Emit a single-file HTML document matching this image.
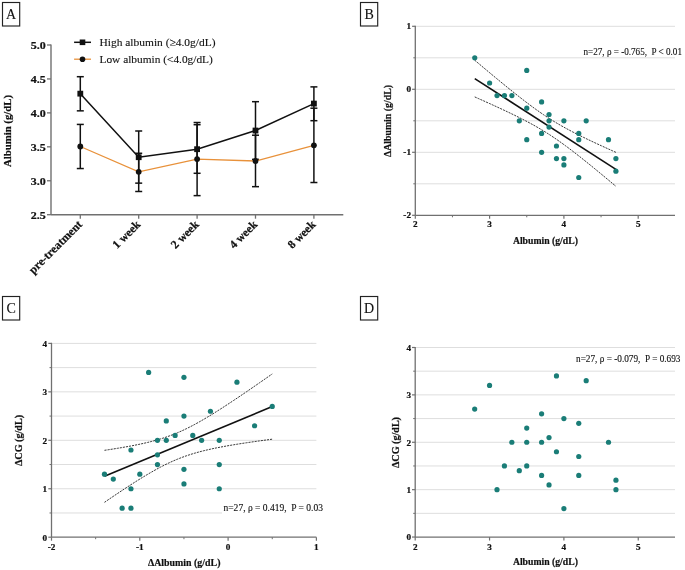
<!DOCTYPE html>
<html><head><meta charset="utf-8"><style>
html,body{margin:0;padding:0;background:#fff;}
svg{display:block;will-change:transform;}
text{font-family:"Liberation Serif", serif;fill:#111;white-space:pre;}
text.r{stroke:#111;stroke-width:0.12px;}
text.b{stroke:#111;stroke-width:0.22px;}
</style></head><body>
<svg width="685" height="570" viewBox="0 0 685 570">
<rect width="685" height="570" fill="#fff"/>
<rect x="2.5" y="2.5" width="17.2" height="23.5" fill="none" stroke="#222" stroke-width="1.15"/>
<text x="11.1" y="18.7" font-size="14" font-weight="normal" text-anchor="middle" class="r">A</text>
<line x1="51.00" y1="44.40" x2="51.00" y2="214.70" stroke="#707070" stroke-width="1.4"/>
<line x1="51.00" y1="214.70" x2="343.30" y2="214.70" stroke="#707070" stroke-width="1.4"/>
<line x1="47.00" y1="45.00" x2="51.00" y2="45.00" stroke="#707070" stroke-width="1.3"/>
<text x="45.8" y="49.2" font-size="11" font-weight="bold" text-anchor="end" textLength="15" lengthAdjust="spacingAndGlyphs" class="b">5.0</text>
<line x1="47.00" y1="78.94" x2="51.00" y2="78.94" stroke="#707070" stroke-width="1.3"/>
<text x="45.8" y="83.14" font-size="11" font-weight="bold" text-anchor="end" textLength="15" lengthAdjust="spacingAndGlyphs" class="b">4.5</text>
<line x1="47.00" y1="112.88" x2="51.00" y2="112.88" stroke="#707070" stroke-width="1.3"/>
<text x="45.8" y="117.08" font-size="11" font-weight="bold" text-anchor="end" textLength="15" lengthAdjust="spacingAndGlyphs" class="b">4.0</text>
<line x1="47.00" y1="146.82" x2="51.00" y2="146.82" stroke="#707070" stroke-width="1.3"/>
<text x="45.8" y="151.01999999999998" font-size="11" font-weight="bold" text-anchor="end" textLength="15" lengthAdjust="spacingAndGlyphs" class="b">3.5</text>
<line x1="47.00" y1="180.76" x2="51.00" y2="180.76" stroke="#707070" stroke-width="1.3"/>
<text x="45.8" y="184.95999999999998" font-size="11" font-weight="bold" text-anchor="end" textLength="15" lengthAdjust="spacingAndGlyphs" class="b">3.0</text>
<line x1="47.00" y1="214.70" x2="51.00" y2="214.70" stroke="#707070" stroke-width="1.3"/>
<text x="45.8" y="218.89999999999998" font-size="11" font-weight="bold" text-anchor="end" textLength="15" lengthAdjust="spacingAndGlyphs" class="b">2.5</text>
<line x1="80.30" y1="214.70" x2="80.30" y2="218.70" stroke="#707070" stroke-width="1.3"/>
<line x1="138.70" y1="214.70" x2="138.70" y2="218.70" stroke="#707070" stroke-width="1.3"/>
<line x1="197.10" y1="214.70" x2="197.10" y2="218.70" stroke="#707070" stroke-width="1.3"/>
<line x1="255.50" y1="214.70" x2="255.50" y2="218.70" stroke="#707070" stroke-width="1.3"/>
<line x1="313.90" y1="214.70" x2="313.90" y2="218.70" stroke="#707070" stroke-width="1.3"/>
<text x="82.8" y="225.2" font-size="11.7" font-weight="bold" text-anchor="end" transform="rotate(-45 82.8 225.2)" class="b">pre-treatment</text>
<text x="141.2" y="225.2" font-size="11.7" font-weight="bold" text-anchor="end" transform="rotate(-45 141.2 225.2)" class="b">1 week</text>
<text x="199.6" y="225.2" font-size="11.7" font-weight="bold" text-anchor="end" transform="rotate(-45 199.6 225.2)" class="b">2 week</text>
<text x="258.0" y="225.2" font-size="11.7" font-weight="bold" text-anchor="end" transform="rotate(-45 258.0 225.2)" class="b">4 week</text>
<text x="316.4" y="225.2" font-size="11.7" font-weight="bold" text-anchor="end" transform="rotate(-45 316.4 225.2)" class="b">8 week</text>
<text x="10.9" y="131.0" font-size="11" font-weight="bold" text-anchor="middle" textLength="72" lengthAdjust="spacingAndGlyphs" transform="rotate(-90 10.9 131.0)" class="b">Albumin (g/dL)</text>
<line x1="80.30" y1="124.42" x2="80.30" y2="168.54" stroke="#111" stroke-width="1.5"/>
<line x1="76.80" y1="124.42" x2="83.80" y2="124.42" stroke="#111" stroke-width="1.5"/>
<line x1="76.80" y1="168.54" x2="83.80" y2="168.54" stroke="#111" stroke-width="1.5"/>
<line x1="138.70" y1="153.27" x2="138.70" y2="191.49" stroke="#111" stroke-width="1.5"/>
<line x1="135.20" y1="153.27" x2="142.20" y2="153.27" stroke="#111" stroke-width="1.5"/>
<line x1="135.20" y1="191.49" x2="142.20" y2="191.49" stroke="#111" stroke-width="1.5"/>
<line x1="197.10" y1="122.52" x2="197.10" y2="195.63" stroke="#111" stroke-width="1.5"/>
<line x1="193.60" y1="122.52" x2="200.60" y2="122.52" stroke="#111" stroke-width="1.5"/>
<line x1="193.60" y1="195.63" x2="200.60" y2="195.63" stroke="#111" stroke-width="1.5"/>
<line x1="255.50" y1="135.21" x2="255.50" y2="186.67" stroke="#111" stroke-width="1.5"/>
<line x1="252.00" y1="135.21" x2="259.00" y2="135.21" stroke="#111" stroke-width="1.5"/>
<line x1="252.00" y1="186.67" x2="259.00" y2="186.67" stroke="#111" stroke-width="1.5"/>
<line x1="313.90" y1="108.20" x2="313.90" y2="182.52" stroke="#111" stroke-width="1.5"/>
<line x1="310.40" y1="108.20" x2="317.40" y2="108.20" stroke="#111" stroke-width="1.5"/>
<line x1="310.40" y1="182.52" x2="317.40" y2="182.52" stroke="#111" stroke-width="1.5"/>
<line x1="80.30" y1="76.70" x2="80.30" y2="110.84" stroke="#111" stroke-width="1.5"/>
<line x1="76.80" y1="76.70" x2="83.80" y2="76.70" stroke="#111" stroke-width="1.5"/>
<line x1="76.80" y1="110.84" x2="83.80" y2="110.84" stroke="#111" stroke-width="1.5"/>
<line x1="138.70" y1="131.00" x2="138.70" y2="183.14" stroke="#111" stroke-width="1.5"/>
<line x1="135.20" y1="131.00" x2="142.20" y2="131.00" stroke="#111" stroke-width="1.5"/>
<line x1="135.20" y1="183.14" x2="142.20" y2="183.14" stroke="#111" stroke-width="1.5"/>
<line x1="197.10" y1="124.69" x2="197.10" y2="173.29" stroke="#111" stroke-width="1.5"/>
<line x1="193.60" y1="124.69" x2="200.60" y2="124.69" stroke="#111" stroke-width="1.5"/>
<line x1="193.60" y1="173.29" x2="200.60" y2="173.29" stroke="#111" stroke-width="1.5"/>
<line x1="255.50" y1="101.68" x2="255.50" y2="159.38" stroke="#111" stroke-width="1.5"/>
<line x1="252.00" y1="101.68" x2="259.00" y2="101.68" stroke="#111" stroke-width="1.5"/>
<line x1="252.00" y1="159.38" x2="259.00" y2="159.38" stroke="#111" stroke-width="1.5"/>
<line x1="313.90" y1="86.88" x2="313.90" y2="120.69" stroke="#111" stroke-width="1.5"/>
<line x1="310.40" y1="86.88" x2="317.40" y2="86.88" stroke="#111" stroke-width="1.5"/>
<line x1="310.40" y1="120.69" x2="317.40" y2="120.69" stroke="#111" stroke-width="1.5"/>
<polyline points="80.30,146.48 138.70,171.80 197.10,159.11 255.50,161.01 313.90,145.33" fill="none" stroke="#e8913a" stroke-width="1.3"/>
<polyline points="80.30,93.67 138.70,157.21 197.10,149.20 255.50,130.53 313.90,103.58" fill="none" stroke="#111" stroke-width="1.5"/>
<circle cx="80.3" cy="146.48" r="2.9" fill="#111"/>
<circle cx="138.7" cy="171.80" r="2.9" fill="#111"/>
<circle cx="197.1" cy="159.11" r="2.9" fill="#111"/>
<circle cx="255.5" cy="161.01" r="2.9" fill="#111"/>
<circle cx="313.9" cy="145.33" r="2.9" fill="#111"/>
<rect x="77.40" y="90.77" width="5.8" height="5.8" fill="#111"/>
<rect x="135.80" y="154.31" width="5.8" height="5.8" fill="#111"/>
<rect x="194.20" y="146.30" width="5.8" height="5.8" fill="#111"/>
<rect x="252.60" y="127.63" width="5.8" height="5.8" fill="#111"/>
<rect x="311.00" y="100.68" width="5.8" height="5.8" fill="#111"/>
<line x1="74.10" y1="42.30" x2="91.00" y2="42.30" stroke="#111" stroke-width="1.5"/>
<rect x="79.7" y="39.5" width="5.6" height="5.6" fill="#111"/>
<text x="99.5" y="45.9" font-size="11.2" font-weight="normal" text-anchor="start" textLength="116" lengthAdjust="spacingAndGlyphs" class="r">High albumin (≥4.0g/dL)</text>
<line x1="74.10" y1="59.20" x2="91.00" y2="59.20" stroke="#e8913a" stroke-width="1.3"/>
<circle cx="82.5" cy="59.2" r="2.8" fill="#111"/>
<text x="99.5" y="62.9" font-size="11.2" font-weight="normal" text-anchor="start" textLength="113.3" lengthAdjust="spacingAndGlyphs" class="r">Low albumin (&lt;4.0g/dL)</text>
<rect x="360.5" y="2.5" width="17.19999999999999" height="23.5" fill="none" stroke="#222" stroke-width="1.15"/>
<text x="369.1" y="18.7" font-size="14" font-weight="normal" text-anchor="middle" class="r">B</text>
<line x1="415.30" y1="26.30" x2="675.00" y2="26.30" stroke="#dedede" stroke-width="1"/>
<line x1="415.30" y1="57.80" x2="675.00" y2="57.80" stroke="#dedede" stroke-width="1"/>
<line x1="415.30" y1="89.30" x2="675.00" y2="89.30" stroke="#dedede" stroke-width="1"/>
<line x1="415.30" y1="120.80" x2="675.00" y2="120.80" stroke="#dedede" stroke-width="1"/>
<line x1="415.30" y1="152.30" x2="675.00" y2="152.30" stroke="#dedede" stroke-width="1"/>
<line x1="415.30" y1="183.80" x2="675.00" y2="183.80" stroke="#dedede" stroke-width="1"/>
<line x1="415.30" y1="25.70" x2="415.30" y2="215.30" stroke="#707070" stroke-width="1.3"/>
<line x1="415.30" y1="215.30" x2="675.00" y2="215.30" stroke="#707070" stroke-width="1.3"/>
<line x1="412.10" y1="26.30" x2="415.30" y2="26.30" stroke="#707070" stroke-width="1.2"/>
<text x="411" y="29.2" font-size="9.2" font-weight="bold" text-anchor="end" class="b">1</text>
<line x1="412.10" y1="89.30" x2="415.30" y2="89.30" stroke="#707070" stroke-width="1.2"/>
<text x="411" y="92.2" font-size="9.2" font-weight="bold" text-anchor="end" class="b">0</text>
<line x1="412.10" y1="152.30" x2="415.30" y2="152.30" stroke="#707070" stroke-width="1.2"/>
<text x="411" y="155.20000000000002" font-size="9.2" font-weight="bold" text-anchor="end" class="b">-1</text>
<line x1="412.10" y1="215.30" x2="415.30" y2="215.30" stroke="#707070" stroke-width="1.2"/>
<text x="411" y="218.20000000000002" font-size="9.2" font-weight="bold" text-anchor="end" class="b">-2</text>
<line x1="413.30" y1="57.80" x2="415.30" y2="57.80" stroke="#707070" stroke-width="1.0"/>
<line x1="413.30" y1="120.80" x2="415.30" y2="120.80" stroke="#707070" stroke-width="1.0"/>
<line x1="413.30" y1="183.80" x2="415.30" y2="183.80" stroke="#707070" stroke-width="1.0"/>
<line x1="415.30" y1="215.30" x2="415.30" y2="218.80" stroke="#707070" stroke-width="1.2"/>
<text x="415.3" y="227.3" font-size="9.2" font-weight="bold" text-anchor="middle" class="b">2</text>
<line x1="489.60" y1="215.30" x2="489.60" y2="218.80" stroke="#707070" stroke-width="1.2"/>
<text x="489.6" y="227.3" font-size="9.2" font-weight="bold" text-anchor="middle" class="b">3</text>
<line x1="563.90" y1="215.30" x2="563.90" y2="218.80" stroke="#707070" stroke-width="1.2"/>
<text x="563.9" y="227.3" font-size="9.2" font-weight="bold" text-anchor="middle" class="b">4</text>
<line x1="638.20" y1="215.30" x2="638.20" y2="218.80" stroke="#707070" stroke-width="1.2"/>
<text x="638.2" y="227.3" font-size="9.2" font-weight="bold" text-anchor="middle" class="b">5</text>
<line x1="452.45" y1="215.30" x2="452.45" y2="217.30" stroke="#707070" stroke-width="1.0"/>
<line x1="526.75" y1="215.30" x2="526.75" y2="217.30" stroke="#707070" stroke-width="1.0"/>
<line x1="601.05" y1="215.30" x2="601.05" y2="217.30" stroke="#707070" stroke-width="1.0"/>
<text x="390.9" y="121" font-size="10.5" font-weight="bold" text-anchor="middle" textLength="72" lengthAdjust="spacingAndGlyphs" transform="rotate(-90 390.9 121)" class="b">ΔAlbumin (g/dL)</text>
<text x="545.4" y="243.7" font-size="10.5" font-weight="bold" text-anchor="middle" textLength="65" lengthAdjust="spacingAndGlyphs" class="b">Albumin (g/dL)</text>
<text x="583.5" y="55.0" font-size="9.5" font-weight="normal" text-anchor="start" textLength="98.5" lengthAdjust="spacingAndGlyphs" class="r">n=27, ρ = -0.765,  P &lt; 0.01</text>
<polyline points="474.74,60.24 478.36,63.29 481.98,66.33 485.60,69.37 489.22,72.39 492.84,75.40 496.46,78.40 500.08,81.38 503.70,84.35 507.32,87.30 510.94,90.22 514.56,93.12 518.18,95.98 521.80,98.81 525.42,101.60 529.04,104.34 532.66,107.03 536.28,109.65 539.90,112.21 543.52,114.69 547.13,117.09 550.75,119.42 554.37,121.66 557.99,123.82 561.61,125.91 565.23,127.94 568.85,129.90 572.47,131.81 576.09,133.67 579.71,135.49 583.33,137.27 586.95,139.02 590.57,140.75 594.19,142.46 597.81,144.14 601.43,145.81 605.05,147.46 608.67,149.10 612.29,150.73 615.91,152.35" fill="none" stroke="#222" stroke-width="0.9" stroke-dasharray="2.1,1.0"/>
<polyline points="474.74,96.92 478.36,98.53 481.98,100.14 485.60,101.76 489.22,103.39 492.84,105.03 496.46,106.69 500.08,108.36 503.70,110.05 507.32,111.75 510.94,113.48 514.56,115.24 518.18,117.03 521.80,118.85 525.42,120.71 529.04,122.63 532.66,124.59 536.28,126.62 539.90,128.72 543.52,130.89 547.13,133.14 550.75,135.47 554.37,137.89 557.99,140.37 561.61,142.94 565.23,145.57 568.85,148.26 572.47,151.01 576.09,153.80 579.71,156.63 583.33,159.50 586.95,162.40 590.57,165.33 594.19,168.28 597.81,171.25 601.43,174.23 605.05,177.23 608.67,180.24 612.29,183.27 615.91,186.30" fill="none" stroke="#222" stroke-width="0.9" stroke-dasharray="2.1,1.0"/>
<line x1="474.74" y1="78.58" x2="615.91" y2="169.33" stroke="#111" stroke-width="1.6"/>
<circle cx="474.74" cy="57.80" r="2.6" fill="#1a7d77"/>
<circle cx="489.60" cy="83.00" r="2.6" fill="#1a7d77"/>
<circle cx="497.03" cy="95.60" r="2.6" fill="#1a7d77"/>
<circle cx="504.46" cy="95.60" r="2.6" fill="#1a7d77"/>
<circle cx="511.89" cy="95.60" r="2.6" fill="#1a7d77"/>
<circle cx="526.75" cy="70.40" r="2.6" fill="#1a7d77"/>
<circle cx="526.75" cy="108.20" r="2.6" fill="#1a7d77"/>
<circle cx="519.32" cy="120.80" r="2.6" fill="#1a7d77"/>
<circle cx="526.75" cy="139.70" r="2.6" fill="#1a7d77"/>
<circle cx="541.61" cy="101.90" r="2.6" fill="#1a7d77"/>
<circle cx="541.61" cy="133.40" r="2.6" fill="#1a7d77"/>
<circle cx="541.61" cy="152.30" r="2.6" fill="#1a7d77"/>
<circle cx="549.04" cy="114.50" r="2.6" fill="#1a7d77"/>
<circle cx="549.04" cy="120.80" r="2.6" fill="#1a7d77"/>
<circle cx="549.04" cy="127.10" r="2.6" fill="#1a7d77"/>
<circle cx="556.47" cy="146.00" r="2.6" fill="#1a7d77"/>
<circle cx="556.47" cy="158.60" r="2.6" fill="#1a7d77"/>
<circle cx="563.90" cy="120.80" r="2.6" fill="#1a7d77"/>
<circle cx="563.90" cy="158.60" r="2.6" fill="#1a7d77"/>
<circle cx="563.90" cy="164.90" r="2.6" fill="#1a7d77"/>
<circle cx="578.76" cy="133.40" r="2.6" fill="#1a7d77"/>
<circle cx="578.76" cy="139.70" r="2.6" fill="#1a7d77"/>
<circle cx="578.76" cy="177.50" r="2.6" fill="#1a7d77"/>
<circle cx="586.19" cy="120.80" r="2.6" fill="#1a7d77"/>
<circle cx="608.48" cy="139.70" r="2.6" fill="#1a7d77"/>
<circle cx="615.91" cy="158.60" r="2.6" fill="#1a7d77"/>
<circle cx="615.91" cy="171.20" r="2.6" fill="#1a7d77"/>
<rect x="2.5" y="296.5" width="17.2" height="23.5" fill="none" stroke="#222" stroke-width="1.15"/>
<text x="11.1" y="312.7" font-size="14" font-weight="normal" text-anchor="middle" class="r">C</text>
<line x1="51.50" y1="343.40" x2="316.40" y2="343.40" stroke="#dedede" stroke-width="1"/>
<line x1="51.50" y1="367.62" x2="316.40" y2="367.62" stroke="#dedede" stroke-width="1"/>
<line x1="51.50" y1="391.85" x2="316.40" y2="391.85" stroke="#dedede" stroke-width="1"/>
<line x1="51.50" y1="416.08" x2="316.40" y2="416.08" stroke="#dedede" stroke-width="1"/>
<line x1="51.50" y1="440.30" x2="316.40" y2="440.30" stroke="#dedede" stroke-width="1"/>
<line x1="51.50" y1="464.53" x2="316.40" y2="464.53" stroke="#dedede" stroke-width="1"/>
<line x1="51.50" y1="488.75" x2="316.40" y2="488.75" stroke="#dedede" stroke-width="1"/>
<line x1="51.50" y1="512.98" x2="316.40" y2="512.98" stroke="#dedede" stroke-width="1"/>
<line x1="51.50" y1="342.80" x2="51.50" y2="537.20" stroke="#707070" stroke-width="1.3"/>
<line x1="51.50" y1="537.20" x2="316.40" y2="537.20" stroke="#707070" stroke-width="1.3"/>
<line x1="48.30" y1="537.20" x2="51.50" y2="537.20" stroke="#707070" stroke-width="1.2"/>
<text x="47" y="540.5" font-size="9.2" font-weight="bold" text-anchor="end" class="b">0</text>
<line x1="48.30" y1="488.75" x2="51.50" y2="488.75" stroke="#707070" stroke-width="1.2"/>
<text x="47" y="492.05000000000007" font-size="9.2" font-weight="bold" text-anchor="end" class="b">1</text>
<line x1="48.30" y1="440.30" x2="51.50" y2="440.30" stroke="#707070" stroke-width="1.2"/>
<text x="47" y="443.6000000000001" font-size="9.2" font-weight="bold" text-anchor="end" class="b">2</text>
<line x1="48.30" y1="391.85" x2="51.50" y2="391.85" stroke="#707070" stroke-width="1.2"/>
<text x="47" y="395.15000000000003" font-size="9.2" font-weight="bold" text-anchor="end" class="b">3</text>
<line x1="48.30" y1="343.40" x2="51.50" y2="343.40" stroke="#707070" stroke-width="1.2"/>
<text x="47" y="346.70000000000005" font-size="9.2" font-weight="bold" text-anchor="end" class="b">4</text>
<line x1="49.50" y1="512.98" x2="51.50" y2="512.98" stroke="#707070" stroke-width="1.0"/>
<line x1="49.50" y1="464.53" x2="51.50" y2="464.53" stroke="#707070" stroke-width="1.0"/>
<line x1="49.50" y1="416.08" x2="51.50" y2="416.08" stroke="#707070" stroke-width="1.0"/>
<line x1="49.50" y1="367.62" x2="51.50" y2="367.62" stroke="#707070" stroke-width="1.0"/>
<line x1="51.50" y1="537.20" x2="51.50" y2="540.70" stroke="#707070" stroke-width="1.2"/>
<text x="51.5" y="549.6" font-size="9.2" font-weight="bold" text-anchor="middle" class="b">-2</text>
<line x1="139.80" y1="537.20" x2="139.80" y2="540.70" stroke="#707070" stroke-width="1.2"/>
<text x="139.8" y="549.6" font-size="9.2" font-weight="bold" text-anchor="middle" class="b">-1</text>
<line x1="228.10" y1="537.20" x2="228.10" y2="540.70" stroke="#707070" stroke-width="1.2"/>
<text x="228.1" y="549.6" font-size="9.2" font-weight="bold" text-anchor="middle" class="b">0</text>
<line x1="316.40" y1="537.20" x2="316.40" y2="540.70" stroke="#707070" stroke-width="1.2"/>
<text x="316.4" y="549.6" font-size="9.2" font-weight="bold" text-anchor="middle" class="b">1</text>
<line x1="95.65" y1="537.20" x2="95.65" y2="539.20" stroke="#707070" stroke-width="1.0"/>
<line x1="183.95" y1="537.20" x2="183.95" y2="539.20" stroke="#707070" stroke-width="1.0"/>
<line x1="272.25" y1="537.20" x2="272.25" y2="539.20" stroke="#707070" stroke-width="1.0"/>
<text x="21.8" y="440.5" font-size="10.5" font-weight="bold" text-anchor="middle" textLength="51" lengthAdjust="spacingAndGlyphs" transform="rotate(-90 21.8 440.5)" class="b">ΔCG (g/dL)</text>
<text x="184.2" y="566.3" font-size="10.5" font-weight="bold" text-anchor="middle" textLength="72.5" lengthAdjust="spacingAndGlyphs" class="b">ΔAlbumin (g/dL)</text>
<polyline points="104.48,450.32 108.78,449.68 113.08,449.01 117.39,448.32 121.69,447.61 125.99,446.86 130.29,446.08 134.59,445.26 138.89,444.38 143.20,443.45 147.50,442.46 151.80,441.38 156.10,440.22 160.40,438.96 164.71,437.59 169.01,436.09 173.31,434.47 177.61,432.71 181.91,430.82 186.21,428.79 190.52,426.64 194.82,424.37 199.12,422.00 203.42,419.53 207.72,416.98 212.02,414.36 216.33,411.68 220.63,408.95 224.93,406.17 229.23,403.35 233.53,400.50 237.84,397.62 242.14,394.72 246.44,391.80 250.74,388.85 255.04,385.89 259.34,382.91 263.65,379.93 267.95,376.93 272.25,373.92" fill="none" stroke="#222" stroke-width="0.9" stroke-dasharray="2.1,1.0"/>
<polyline points="104.48,502.33 108.78,499.40 113.08,496.48 117.39,493.59 121.69,490.73 125.99,487.90 130.29,485.10 134.59,482.35 138.89,479.64 143.20,476.99 147.50,474.41 151.80,471.91 156.10,469.49 160.40,467.17 164.71,464.97 169.01,462.88 173.31,460.93 177.61,459.11 181.91,457.42 186.21,455.87 190.52,454.45 194.82,453.14 199.12,451.93 203.42,450.82 207.72,449.79 212.02,448.83 216.33,447.93 220.63,447.09 224.93,446.29 229.23,445.52 233.53,444.80 237.84,444.10 242.14,443.42 246.44,442.77 250.74,442.14 255.04,441.52 259.34,440.92 263.65,440.33 267.95,439.75 272.25,439.18" fill="none" stroke="#222" stroke-width="0.9" stroke-dasharray="2.1,1.0"/>
<line x1="104.48" y1="476.33" x2="272.25" y2="406.55" stroke="#111" stroke-width="1.6"/>
<circle cx="148.63" cy="372.47" r="2.6" fill="#1a7d77"/>
<circle cx="183.95" cy="377.32" r="2.6" fill="#1a7d77"/>
<circle cx="236.93" cy="382.16" r="2.6" fill="#1a7d77"/>
<circle cx="210.44" cy="411.23" r="2.6" fill="#1a7d77"/>
<circle cx="272.25" cy="406.38" r="2.6" fill="#1a7d77"/>
<circle cx="166.29" cy="420.92" r="2.6" fill="#1a7d77"/>
<circle cx="183.95" cy="416.08" r="2.6" fill="#1a7d77"/>
<circle cx="254.59" cy="425.77" r="2.6" fill="#1a7d77"/>
<circle cx="175.12" cy="435.46" r="2.6" fill="#1a7d77"/>
<circle cx="192.78" cy="435.46" r="2.6" fill="#1a7d77"/>
<circle cx="157.46" cy="440.30" r="2.6" fill="#1a7d77"/>
<circle cx="166.29" cy="440.30" r="2.6" fill="#1a7d77"/>
<circle cx="201.61" cy="440.30" r="2.6" fill="#1a7d77"/>
<circle cx="219.27" cy="440.30" r="2.6" fill="#1a7d77"/>
<circle cx="130.97" cy="449.99" r="2.6" fill="#1a7d77"/>
<circle cx="157.46" cy="454.84" r="2.6" fill="#1a7d77"/>
<circle cx="157.46" cy="464.53" r="2.6" fill="#1a7d77"/>
<circle cx="219.27" cy="464.53" r="2.6" fill="#1a7d77"/>
<circle cx="183.95" cy="469.37" r="2.6" fill="#1a7d77"/>
<circle cx="104.48" cy="474.22" r="2.6" fill="#1a7d77"/>
<circle cx="139.80" cy="474.22" r="2.6" fill="#1a7d77"/>
<circle cx="113.31" cy="479.06" r="2.6" fill="#1a7d77"/>
<circle cx="183.95" cy="483.91" r="2.6" fill="#1a7d77"/>
<circle cx="130.97" cy="488.75" r="2.6" fill="#1a7d77"/>
<circle cx="219.27" cy="488.75" r="2.6" fill="#1a7d77"/>
<circle cx="122.14" cy="508.13" r="2.6" fill="#1a7d77"/>
<circle cx="130.97" cy="508.13" r="2.6" fill="#1a7d77"/>
<rect x="222" y="502" width="102" height="12" fill="#fff"/>
<text x="223.5" y="511.2" font-size="9.5" font-weight="normal" text-anchor="start" textLength="99.5" lengthAdjust="spacingAndGlyphs" class="r">n=27, ρ = 0.419,  P = 0.03</text>
<rect x="360.5" y="296.5" width="17.19999999999999" height="23.5" fill="none" stroke="#222" stroke-width="1.15"/>
<text x="369.1" y="312.7" font-size="14" font-weight="normal" text-anchor="middle" class="r">D</text>
<line x1="415.20" y1="347.49" x2="675.00" y2="347.49" stroke="#dedede" stroke-width="1"/>
<line x1="415.20" y1="371.18" x2="675.00" y2="371.18" stroke="#dedede" stroke-width="1"/>
<line x1="415.20" y1="394.88" x2="675.00" y2="394.88" stroke="#dedede" stroke-width="1"/>
<line x1="415.20" y1="418.57" x2="675.00" y2="418.57" stroke="#dedede" stroke-width="1"/>
<line x1="415.20" y1="442.27" x2="675.00" y2="442.27" stroke="#dedede" stroke-width="1"/>
<line x1="415.20" y1="465.96" x2="675.00" y2="465.96" stroke="#dedede" stroke-width="1"/>
<line x1="415.20" y1="489.66" x2="675.00" y2="489.66" stroke="#dedede" stroke-width="1"/>
<line x1="415.20" y1="513.35" x2="675.00" y2="513.35" stroke="#dedede" stroke-width="1"/>
<line x1="415.20" y1="346.89" x2="415.20" y2="537.05" stroke="#707070" stroke-width="1.3"/>
<line x1="415.20" y1="537.05" x2="675.00" y2="537.05" stroke="#707070" stroke-width="1.3"/>
<line x1="412.00" y1="537.05" x2="415.20" y2="537.05" stroke="#707070" stroke-width="1.2"/>
<text x="411" y="540.3499999999999" font-size="9.2" font-weight="bold" text-anchor="end" class="b">0</text>
<line x1="412.00" y1="489.66" x2="415.20" y2="489.66" stroke="#707070" stroke-width="1.2"/>
<text x="411" y="492.96" font-size="9.2" font-weight="bold" text-anchor="end" class="b">1</text>
<line x1="412.00" y1="442.27" x2="415.20" y2="442.27" stroke="#707070" stroke-width="1.2"/>
<text x="411" y="445.57" font-size="9.2" font-weight="bold" text-anchor="end" class="b">2</text>
<line x1="412.00" y1="394.88" x2="415.20" y2="394.88" stroke="#707070" stroke-width="1.2"/>
<text x="411" y="398.17999999999995" font-size="9.2" font-weight="bold" text-anchor="end" class="b">3</text>
<line x1="412.00" y1="347.49" x2="415.20" y2="347.49" stroke="#707070" stroke-width="1.2"/>
<text x="411" y="350.78999999999996" font-size="9.2" font-weight="bold" text-anchor="end" class="b">4</text>
<line x1="413.20" y1="513.35" x2="415.20" y2="513.35" stroke="#707070" stroke-width="1.0"/>
<line x1="413.20" y1="465.96" x2="415.20" y2="465.96" stroke="#707070" stroke-width="1.0"/>
<line x1="413.20" y1="418.57" x2="415.20" y2="418.57" stroke="#707070" stroke-width="1.0"/>
<line x1="413.20" y1="371.18" x2="415.20" y2="371.18" stroke="#707070" stroke-width="1.0"/>
<line x1="415.20" y1="537.05" x2="415.20" y2="540.55" stroke="#707070" stroke-width="1.2"/>
<text x="415.2" y="549.6" font-size="9.2" font-weight="bold" text-anchor="middle" class="b">2</text>
<line x1="489.55" y1="537.05" x2="489.55" y2="540.55" stroke="#707070" stroke-width="1.2"/>
<text x="489.54999999999995" y="549.6" font-size="9.2" font-weight="bold" text-anchor="middle" class="b">3</text>
<line x1="563.90" y1="537.05" x2="563.90" y2="540.55" stroke="#707070" stroke-width="1.2"/>
<text x="563.9" y="549.6" font-size="9.2" font-weight="bold" text-anchor="middle" class="b">4</text>
<line x1="638.25" y1="537.05" x2="638.25" y2="540.55" stroke="#707070" stroke-width="1.2"/>
<text x="638.25" y="549.6" font-size="9.2" font-weight="bold" text-anchor="middle" class="b">5</text>
<text x="398.8" y="442.5" font-size="10.5" font-weight="bold" text-anchor="middle" textLength="51" lengthAdjust="spacingAndGlyphs" transform="rotate(-90 398.8 442.5)" class="b">ΔCG (g/dL)</text>
<text x="545.4" y="565.3" font-size="10.5" font-weight="bold" text-anchor="middle" textLength="65" lengthAdjust="spacingAndGlyphs" class="b">Albumin (g/dL)</text>
<text x="576" y="362.0" font-size="9.5" font-weight="normal" text-anchor="start" textLength="104.5" lengthAdjust="spacingAndGlyphs" class="r">n=27, ρ = -0.079,  P = 0.693</text>
<circle cx="474.68" cy="409.10" r="2.6" fill="#1a7d77"/>
<circle cx="489.55" cy="385.40" r="2.6" fill="#1a7d77"/>
<circle cx="496.99" cy="489.66" r="2.6" fill="#1a7d77"/>
<circle cx="504.42" cy="465.96" r="2.6" fill="#1a7d77"/>
<circle cx="511.85" cy="442.27" r="2.6" fill="#1a7d77"/>
<circle cx="519.29" cy="470.70" r="2.6" fill="#1a7d77"/>
<circle cx="526.73" cy="428.05" r="2.6" fill="#1a7d77"/>
<circle cx="526.73" cy="442.27" r="2.6" fill="#1a7d77"/>
<circle cx="526.73" cy="465.96" r="2.6" fill="#1a7d77"/>
<circle cx="541.60" cy="413.84" r="2.6" fill="#1a7d77"/>
<circle cx="541.60" cy="442.27" r="2.6" fill="#1a7d77"/>
<circle cx="541.60" cy="475.44" r="2.6" fill="#1a7d77"/>
<circle cx="549.03" cy="437.53" r="2.6" fill="#1a7d77"/>
<circle cx="549.03" cy="484.92" r="2.6" fill="#1a7d77"/>
<circle cx="556.46" cy="375.92" r="2.6" fill="#1a7d77"/>
<circle cx="556.46" cy="451.75" r="2.6" fill="#1a7d77"/>
<circle cx="563.90" cy="418.57" r="2.6" fill="#1a7d77"/>
<circle cx="563.90" cy="508.62" r="2.6" fill="#1a7d77"/>
<circle cx="578.77" cy="423.31" r="2.6" fill="#1a7d77"/>
<circle cx="578.77" cy="456.49" r="2.6" fill="#1a7d77"/>
<circle cx="578.77" cy="475.44" r="2.6" fill="#1a7d77"/>
<circle cx="586.20" cy="380.66" r="2.6" fill="#1a7d77"/>
<circle cx="608.51" cy="442.27" r="2.6" fill="#1a7d77"/>
<circle cx="615.94" cy="480.18" r="2.6" fill="#1a7d77"/>
<circle cx="615.94" cy="489.66" r="2.6" fill="#1a7d77"/>
</svg>
</body></html>
